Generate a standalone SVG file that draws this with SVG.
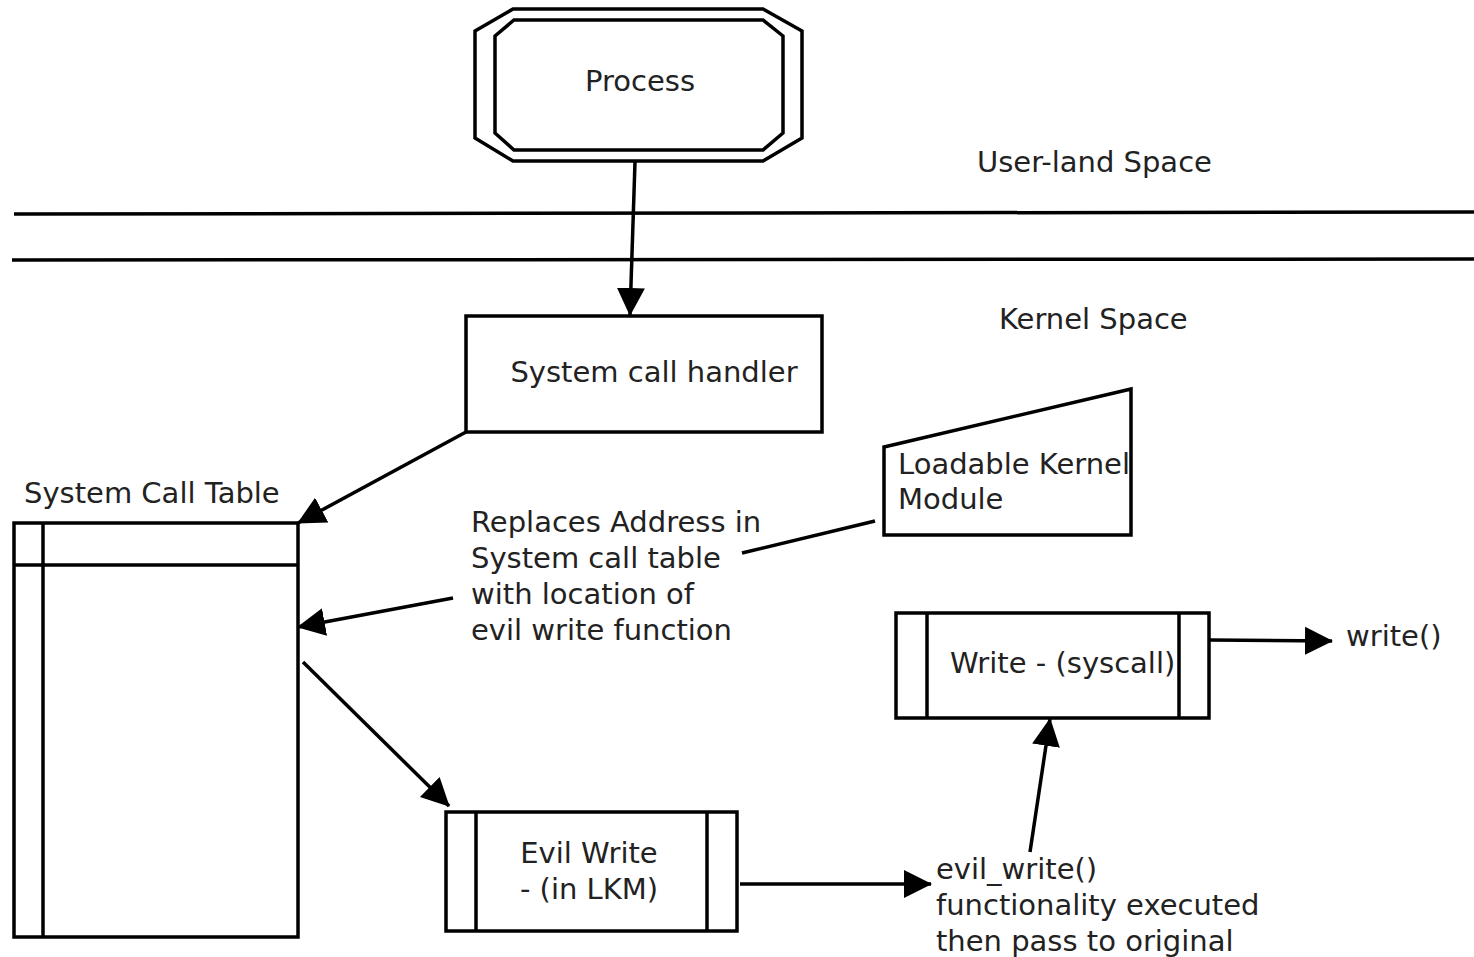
<svg xmlns="http://www.w3.org/2000/svg" width="1474" height="957" viewBox="0 0 1474 957">
<defs>
<style>
.s{fill:#fff;stroke:#000;stroke-width:3.5}
.l{fill:none;stroke:#000;stroke-width:3.5}
text{font-family:"DejaVu Sans","Liberation Sans",sans-serif;font-size:29px;fill:#222}
</style>
<marker id="a" markerUnits="userSpaceOnUse" markerWidth="28" markerHeight="30" refX="27" refY="14" orient="auto" viewBox="0 0 28 28">
<path d="M0,0 L28,14 L0,28 z" fill="#000"/>
</marker>
</defs>
<rect width="1474" height="957" fill="#fff"/>
<g id="boundaries">
<line class="l" x1="14" y1="214" x2="1474" y2="212"/>
<line class="l" x1="12" y1="260" x2="1474" y2="259"/>
<text x="977" y="172">User-land Space</text>
<text x="999" y="329">Kernel Space</text>
</g>
<g id="process">
<polygon class="s" points="513,9 763,9 802,31 802,138 763,161 513,161 475,138 475,31"/>
<polygon class="s" points="514,20 763,20 783,36 783,133 763,150 514,150 495,133 495,36"/>
<text x="640" y="91" text-anchor="middle">Process</text>
</g>
<g id="handler">
<rect class="s" x="466" y="316" width="356" height="116"/>
<text x="654" y="382" text-anchor="middle">System call handler</text>
</g>
<g id="table">
<rect class="s" x="14" y="523" width="284" height="414"/>
<line class="l" x1="43" y1="523" x2="43" y2="937"/>
<line class="l" x1="14" y1="565" x2="298" y2="565"/>
<text x="24" y="503">System Call Table</text>
</g>
<g id="lkm">
<polygon class="s" points="884,447 1131,389 1131,535 884,535"/>
<text x="898" y="474">Loadable Kernel</text>
<text x="898" y="509">Module</text>
</g>
<g id="note">
<text x="471" y="532">Replaces Address in</text>
<text x="471" y="568">System call table</text>
<text x="471" y="604">with location of</text>
<text x="471" y="640">evil write function</text>
</g>
<g id="evilwrite">
<rect class="s" x="446" y="812" width="291" height="119"/>
<line class="l" x1="476" y1="812" x2="476" y2="931"/>
<line class="l" x1="707" y1="812" x2="707" y2="931"/>
<text x="589" y="863" text-anchor="middle">Evil Write</text>
<text x="589" y="899" text-anchor="middle">- (in LKM)</text>
</g>
<g id="syscall">
<rect class="s" x="896" y="613" width="313" height="105"/>
<line class="l" x1="927" y1="613" x2="927" y2="718"/>
<line class="l" x1="1179" y1="613" x2="1179" y2="718"/>
<text x="950" y="673">Write - (syscall)</text>
</g>
<g id="evilnote">
<text x="936" y="879">evil_write()</text>
<text x="936" y="915">functionality executed</text>
<text x="936" y="951">then pass to original</text>
</g>
<g id="writelabel">
<text x="1346" y="646">write()</text>
</g>
<g id="connectors">
<line class="l" x1="635" y1="162" x2="630" y2="315" marker-end="url(#a)"/>
<line class="l" x1="466" y1="432" x2="298" y2="523" marker-end="url(#a)"/>
<line class="l" x1="875" y1="521" x2="742" y2="553"/>
<line class="l" x1="453" y1="598" x2="298" y2="627" marker-end="url(#a)"/>
<line class="l" x1="303" y1="662" x2="449" y2="806" marker-end="url(#a)"/>
<line class="l" x1="740" y1="884" x2="931" y2="884" marker-end="url(#a)"/>
<line class="l" x1="1030" y1="852" x2="1050" y2="719" marker-end="url(#a)"/>
<line class="l" x1="1210" y1="640" x2="1332" y2="641" marker-end="url(#a)"/>
</g>
</svg>
